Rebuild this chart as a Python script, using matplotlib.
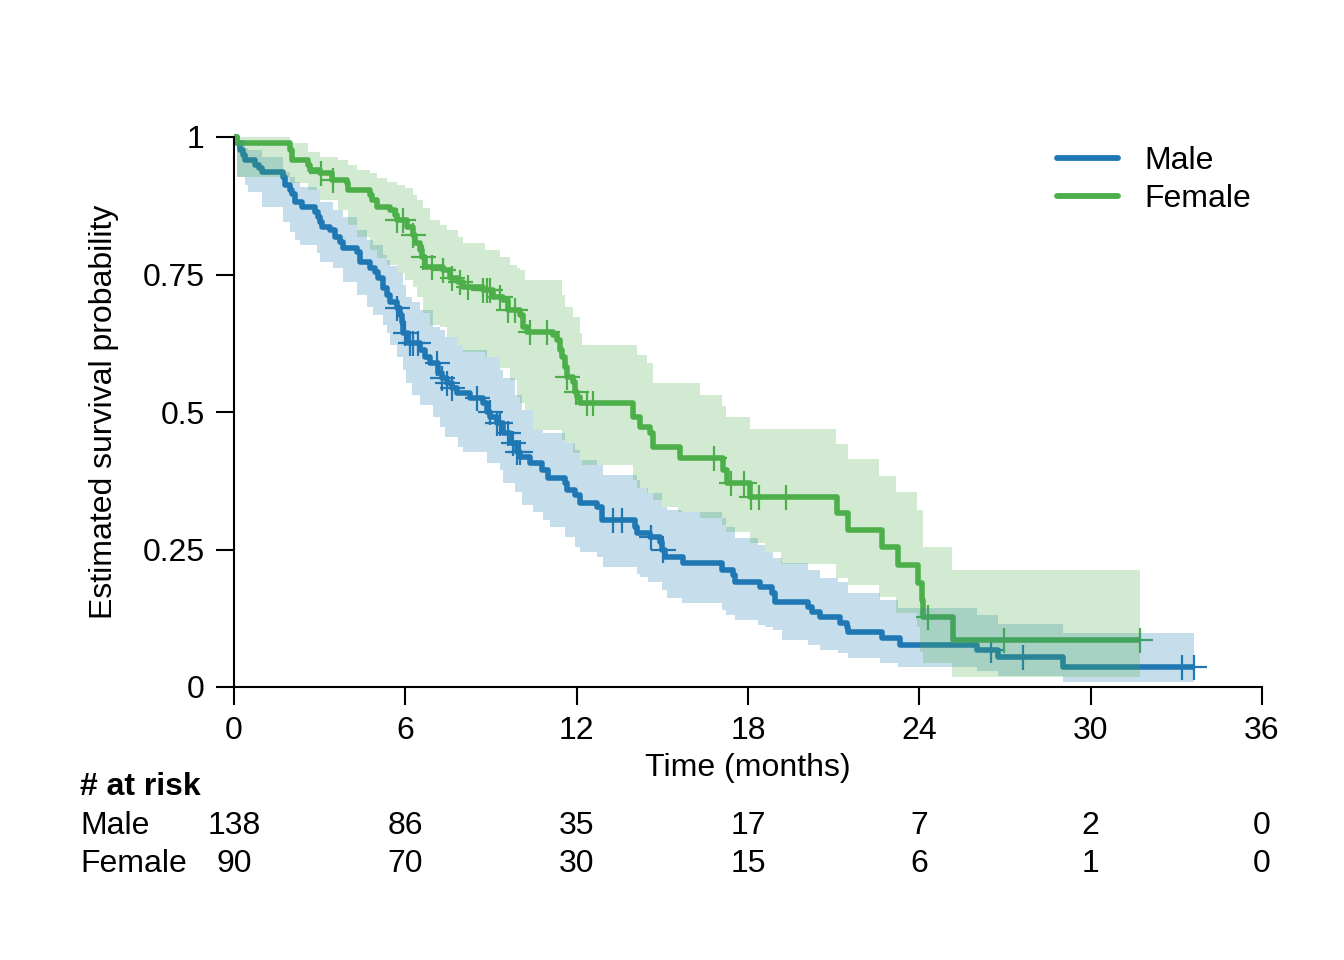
import numpy as np
import matplotlib.pyplot as plt
from matplotlib.lines import Line2D
from matplotlib import transforms

plt.rcParams['font.family'] = ['Liberation Sans', 'DejaVu Sans']

# Kaplan-Meier estimates (time in months)
male_t = [0, 0.11, 0.21, 0.32, 0.39, 0.74, 0.88, 0.98, 1.72, 1.79, 1.96, 2.03, 2.14, 2.38, 2.84,
          2.94, 3.01, 3.08, 3.36, 3.54, 3.71, 3.82, 4.31, 4.41, 4.76, 4.94, 5.04, 5.22, 5.36, 5.46,
          5.71, 5.81, 5.88, 5.92, 6.09, 6.51, 6.69, 6.86, 7.14, 7.28, 7.46, 7.63, 7.81, 8.26, 8.72,
          8.86, 8.97, 9.21, 9.42, 9.67, 9.91, 10.02, 10.37, 10.79, 11.00, 11.59, 11.66, 11.94, 12.12,
          12.71, 12.89, 14.04, 14.11, 14.57, 14.92, 14.99, 15.09, 15.72, 17.09, 17.47, 17.54, 18.42,
          18.84, 18.95, 20.10, 20.24, 20.52, 21.22, 21.47, 21.50, 22.69, 23.32, 26.02, 26.75, 29.03]
male_s = [1, .989, .976, .967, .958, .949, .944, .936, .927, .913, .904, .896, .882, .873, .864,
          .855, .845, .836, .831, .818, .809, .798, .791, .773, .762, .755, .744, .725, .713, .700,
          .689, .676, .664, .644, .625, .613, .600, .589, .571, .562, .553, .544, .535, .525, .516,
          .500, .491, .480, .462, .444, .427, .418, .407, .395, .380, .371, .358, .349, .335,
          .327, .304, .291, .280, .273, .264, .249, .236, .225, .213, .204, .191, .182,
          .171, .155, .145, .136, .127, .116, .109, .100, .089, .076, .067, .055, .036]
male_end = 33.62
male_cens = [5.71, 5.99, 6.16, 6.27, 6.44, 7.11, 7.28, 7.46, 7.63, 8.51, 8.96, 9.21, 9.31, 9.60,
             9.77, 9.91, 10.0, 13.27, 13.59, 14.60, 15.02, 26.5, 27.63, 33.2, 33.62]

fem_t = [0, 0.11, 1.96, 2.03, 2.59, 2.66, 3.01, 3.43, 3.96, 3.99, 4.76, 4.83, 5.01, 5.46, 5.64,
         5.71, 6.06, 6.27, 6.34, 6.51, 6.58, 6.69, 7.32, 7.56, 7.84, 8.02, 8.72, 9.07, 9.42, 9.60,
         10.02, 10.12, 10.26, 11.17, 11.31, 11.42, 11.49, 11.59, 11.66, 11.87, 11.94, 12.01, 12.12,
         13.97, 14.22, 14.57, 14.67, 15.62, 17.12, 17.26, 18.07, 21.12, 21.50, 22.69, 23.25, 23.95,
         24.09, 24.13, 25.18]
fem_s = [1, .989, .976, .958, .949, .940, .935, .922, .916, .904, .895, .885, .873, .867, .858,
         .849, .836, .822, .807, .795, .782, .764, .758, .744, .736, .727, .722, .709, .704, .685,
         .676, .655, .645, .640, .631, .613, .600, .582, .564, .555, .536, .527, .516,
         .491, .473, .462, .436, .416, .395, .371, .345, .316, .285, .255, .222, .189,
         .158, .127, .085]
fem_end = 31.73
fem_cens = [3.05, 3.47, 5.71, 5.92, 6.27, 6.62, 6.93, 7.32, 7.63, 7.91, 8.19, 8.72, 8.86, 8.96,
            9.31, 9.60, 9.84, 10.37, 10.96, 11.66, 11.98, 12.36, 12.57, 16.81, 17.40, 17.86,
            18.10, 18.38, 19.33, 24.30, 26.96, 31.73]

# 95% confidence bands
male_ci_t = [0, .11, .39, .49, .98, 1.72, 1.96, 2.14, 2.31, 2.91, 3.01, 3.47, 3.82, 4.31, 4.66,
             4.87, 5.22, 5.36, 5.46, 5.71, 5.92, 6.02, 6.23, 6.51, 6.97, 7.21, 7.39, 7.84, 8.02,
             8.86, 9.32, 9.42, 9.84, 10.09, 10.47, 10.82, 11.07, 11.59, 11.94, 12.12, 12.71, 12.92,
             14.11, 14.22, 14.50, 14.99, 15.16, 15.69, 17.09, 17.23, 17.54, 18.35, 18.60, 18.88,
             19.19, 20.10, 20.52, 21.15, 21.50, 22.62, 23.25, 26.02, 26.75, 29.03]
male_ci_hi = [1, .995, .980, .976, .964, .936, .927, .918, .909, .904, .882, .867, .855, .831, .813,
              .804, .785, .776, .765, .753, .731, .709, .700, .685, .655, .649, .636, .622, .613,
              .600, .576, .562, .531, .504, .467, .462, .462, .444, .431, .413, .404, .385,
              .376, .362, .353, .327, .322, .318, .307, .291, .271, .258, .245, .235,
              .225, .213, .198, .191, .171, .158, .144, .131, .115, .098]
male_ci_lo = [1, .927, .913, .900, .873, .845, .827, .813, .804, .789, .773, .762, .736, .713, .691,
              .676, .658, .644, .622, .600, .576, .553, .531, .513, .491, .473, .455, .436, .427,
              .407, .395, .371, .355, .331, .318, .304, .291, .273, .255, .245, .236, .218,
              .205, .200, .191, .176, .162, .153, .140, .131, .122, .113, .109, .104,
              .085, .076, .067, .062, .053, .044, .036, .029, .020, .009]

fem_ci_t = [0, .11, 1.96, 2.59, 3.01, 3.64, 3.99, 4.31, 4.76, 5.01, 5.36, 5.71, 5.99, 6.27, 6.41,
            6.62, 6.86, 7.21, 7.46, 7.84, 8.02, 8.79, 9.32, 9.67, 9.91, 10.02, 10.19, 10.47, 11.49,
            11.59, 11.87, 12.12, 12.19, 13.97, 14.11, 14.46, 14.67, 14.99, 15.55, 16.32, 17.09,
            17.23, 18.07, 18.60, 19.16, 21.08, 21.50, 22.59, 23.18, 23.92, 24.02, 24.13, 25.14]
fem_ci_hi = [1, 1, .989, .973, .964, .958, .949, .940, .935, .925, .918, .913, .907, .895, .885,
             .871, .849, .840, .831, .818, .807, .795, .782, .767, .762, .758, .740, .740, .713,
             .691, .673, .644, .622, .622, .604, .589, .553, .553, .553, .531, .511,
             .491, .469, .469, .469, .442, .415, .384, .355, .322, .322, .255, .213]
fem_ci_lo = [1, .927, .916, .904, .885, .867, .840, .818, .795, .780, .767, .753, .740, .727, .709,
             .680, .658, .655, .636, .622, .609, .600, .580, .558, .527, .516, .504, .467, .449,
             .444, .425, .413, .404, .376, .362, .353, .340, .327, .318, .307, .295,
             .282, .262, .245, .224, .198, .185, .164, .135, .109, .064, .044, .018]

risk_times = [0, 6, 12, 18, 24, 30, 36]
male_risk = [138, 86, 35, 17, 7, 2, 0]
fem_risk = [90, 70, 30, 15, 6, 1, 0]

colors = ['#1f78b4', '#4daf4a']
fs = 23

fig = plt.figure(figsize=(13.44, 9.6), dpi=100)
ax = fig.add_axes([234 / 1344, 1 - 687 / 960, 1028 / 1344, 550 / 960])


def surv_at(t, s, x):
    idx = np.searchsorted(t, x, side='right') - 1
    return np.asarray(s)[idx]


curves = [(male_t, male_s, male_end, male_cens), (fem_t, fem_s, fem_end, fem_cens)]
bands = [(male_ci_t, male_ci_lo, male_ci_hi, male_end), (fem_ci_t, fem_ci_lo, fem_ci_hi, fem_end)]

# lines first, translucent bands drawn over them
for (t, s, end, cens), c in zip(curves, colors):
    ax.step(t + [end], s + [s[-1]], where='post', color=c, lw=4, zorder=2, clip_on=False,
            solid_joinstyle='round', solid_capstyle='butt')
    ax.plot(cens, surv_at(t, s, cens), '+', color=c, ms=18, mew=1.6, zorder=2, clip_on=False)

for (t, lo, hi, end), c in zip(bands, colors):
    ax.fill_between(t + [end], lo + [lo[-1]], hi + [hi[-1]], step='post',
                    color=c, alpha=0.25, lw=0, zorder=3)

ax.set_xlim(0, 36)
ax.set_ylim(0, 1)
ax.spines['top'].set_visible(False)
ax.spines['right'].set_visible(False)
for sp in ['left', 'bottom']:
    ax.spines[sp].set_linewidth(1.5)
ax.set_xticks(risk_times)
ax.set_yticks([0, 0.25, 0.5, 0.75, 1])
ax.set_yticklabels(['0', '0.25', '0.5', '0.75', '1'])
ax.tick_params(axis='both', labelsize=fs, length=13, width=1.5)
ax.tick_params(axis='x', pad=8)
ax.tick_params(axis='y', pad=8)

ax.set_xlabel('Time (months)', fontsize=fs, va='center')
ax.xaxis.set_label_coords(0.5, -81 / 550)
ax.set_ylabel('Estimated survival probability', fontsize=fs, va='center')
ax.yaxis.set_label_coords(-130 / 1028, 0.5)

handles = [Line2D([], [], color=c, lw=4.2, solid_capstyle='round') for c in colors]
fig.legend(handles, ['Male', 'Female'], loc='upper left', bbox_to_anchor=(1057 / 1344, 1 - 146 / 960),
           frameon=False, fontsize=fs, handlelength=1.9, handletextpad=0.85,
           labelspacing=0.25, borderpad=0, borderaxespad=0)

# number at risk table
tr = transforms.blended_transform_factory(ax.transData, fig.transFigure)
fig.text(80 / 1344, 1 - 787 / 960, '# at risk', fontsize=fs, fontweight='bold', va='center')
fig.text(80 / 1344, 1 - 826 / 960, 'Male', fontsize=fs, va='center')
fig.text(80 / 1344, 1 - 864 / 960, 'Female', fontsize=fs, va='center')
for x, m, f in zip(risk_times, male_risk, fem_risk):
    ax.text(x, 1 - 826 / 960, str(m), transform=tr, fontsize=fs, ha='center', va='center')
    ax.text(x, 1 - 864 / 960, str(f), transform=tr, fontsize=fs, ha='center', va='center')

fig.savefig('out.png', dpi=100)
